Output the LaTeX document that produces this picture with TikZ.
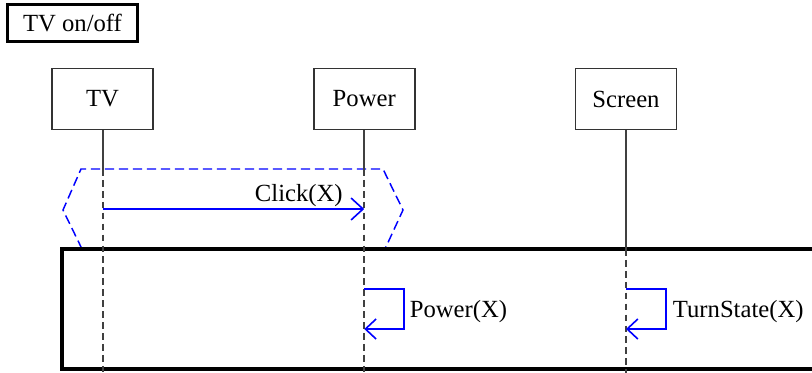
\documentclass[tikz,border=0pt]{standalone}
\usepackage{fontspec}
\setmainfont{Liberation Serif}
\usetikzlibrary{positioning, arrows.meta}

\begin{document}
\begin{tikzpicture}[x=0.75pt, y=-0.75pt,
			every node/.style={font=\fontsize{18.5}{22}\selectfont},
			title/.style={rectangle, draw=black, line width=2.25pt, minimum width=97.5pt, minimum height=27.75pt, inner sep=0pt},
			lifebox/.style={rectangle, draw=black!80, line width=1.3pt, minimum width=75.75pt, minimum height=45.75pt, inner sep=0pt},
			lifeline/.style={draw=black!75, line width=1.5pt},
			lifedash/.style={lifeline, dash pattern=on 5pt off 3.2pt},
			guard/.style={draw=blue, line width=1.1pt, dash pattern=on 7pt off 3.5pt},
			msg/.style={draw=blue, line width=1.2pt, -{Straight Barb[length=9pt, width=16.5pt]}},
			selfmsg/.style={msg, -{Straight Barb[length=8pt, width=15pt]}},
			frame/.style={draw=black, line width=2.4pt},
			msglabel/.style={inner sep=0pt}
			]
			\useasboundingbox (0,0) rectangle (812,372);
			
			\node[title] (title) at (72.5,23) {TV on/off};
			\node[lifebox] (tv) at (102.5,99) {TV};
			\node[lifebox] (power) [right=119.25pt of tv] {Power};
			\node[lifebox] (screen) [right=119.25pt of power] {Screen};
			
			% levels
			\coordinate (hextop) at (0,169);
			\coordinate (frametop) at (0,249);
			\coordinate (pagebottom) at (0,373);
			\coordinate (clicky) at (0,209);
			\coordinate (selftop) at (0,289);
			\coordinate (selfbottom) at (0,329);
			
			% guard around the click
			\draw[guard] (82,249) -- (63,210) -- (81,169) -- (383,169) -- (403,210) -- (385,249);
			
			% frame, open to the right
			\draw[frame] (816,249) -| (62,369) -- (816,369);
			
			% lifelines
			\draw[lifeline] (tv) -- (tv |- hextop);
			\draw[lifedash] (tv |- hextop) -- (tv |- pagebottom);
			\draw[lifeline] (power) -- (power |- hextop);
			\draw[lifedash] (power |- hextop) -- (power |- pagebottom);
			\draw[lifeline] (screen) -- (screen |- frametop);
			\draw[lifedash] (screen |- frametop) -- (screen |- pagebottom);
			
			% messages
			\draw[msg] (tv |- clicky) -- (power |- clicky);
			\node[msglabel, anchor=base east] (clicklabel) at ([xshift=-16pt, yshift=6pt]power |- clicky) {Click(X)};
			
			\draw[selfmsg] (power |- selftop) -- ++(40,0) |- (power |- selfbottom);
			\node[msglabel, anchor=base west] (powerlabel) at ([xshift=34pt, yshift=9pt]power |- selfbottom) {Power(X)};
			
			\draw[selfmsg] (screen |- selftop) -- ++(40,0) |- (screen |- selfbottom);
			\node[msglabel, anchor=base west] (turnlabel) at ([xshift=35pt, yshift=9pt]screen |- selfbottom) {TurnState(X)};
		\end{tikzpicture}
\end{document}
